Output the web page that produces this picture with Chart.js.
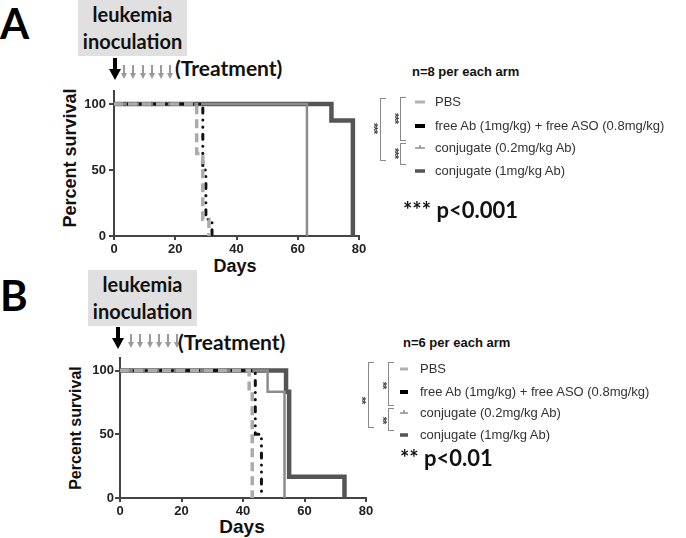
<!DOCTYPE html>
<html>
<head>
<meta charset="utf-8">
<script src="https://cdn.jsdelivr.net/npm/chart.js@4.4.0/dist/chart.umd.min.js"></script>
<style>
  body { margin: 0; background: #fff; width: 686px; height: 538px; overflow: hidden; position: relative; font-family: Arial, "Liberation Sans", sans-serif; }
  .abs { position: absolute; white-space: nowrap; }
  .panel { font-family: Lato, "Open Sans", sans-serif; font-weight: 700; font-size: 42px; color: #000; line-height: 42px; }
  .box { background: #e0e0e0; font-family: Lato, "Open Sans", sans-serif; font-weight: 700; font-size: 20px; color: #111; text-align: center; line-height: 27px; }
  .treat { font-family: Lato, "Open Sans", sans-serif; font-weight: 700; font-size: 21px; color: #111; line-height: 24px; }
  .ytitle { font-weight: bold; color: #111; transform: translate(-50%, -50%) rotate(-90deg); left: 0; top: 0; }
  .xtitle { font-weight: bold; color: #111; transform: translate(-50%, -50%); }
  .narm { font-weight: bold; font-size: 13px; color: #111; line-height: 16px; }
  .leg { font-size: 13px; color: #333; line-height: 16px; }
  .pval { font-family: Lato, "Open Sans", sans-serif; font-weight: 700; font-size: 22px; color: #111; line-height: 26px; }
  .br { border: 1px solid #8a8a8a; border-right: none; }
  .stars { font-size: 11px; font-weight: bold; color: #444; transform: translate(-50%, -50%) rotate(90deg); line-height: 10px; letter-spacing: -1px; }
  canvas { position: absolute; left: 0; }
</style>
</head>
<body>

<!-- Panel A -->
<div class="abs panel" style="left:0;top:2px;">A</div>
<div class="abs box" style="left:78px;top:0;width:109px;height:55px;padding-top:1px;">leukemia<br>inoculation</div>
<svg class="abs" style="left:100px;top:54px;" width="80" height="30">
  <polygon points="13,4 17,4 17,15 21,15 15,26 9,15 13,15" fill="#000"/>
  <g fill="#9a9a9a">
    <polygon points="23,11 25,11 25,19 27,19 24,25 21,19 23,19"/>
    <polygon points="32,11 34,11 34,19 36,19 33,25 30,19 32,19"/>
    <polygon points="42,11 44,11 44,19 46,19 43,25 40,19 42,19"/>
    <polygon points="51,11 53,11 53,19 55,19 52,25 49,19 51,19"/>
    <polygon points="60,11 62,11 62,19 64,19 61,25 58,19 60,19"/>
    <polygon points="69,11 71,11 71,19 73,19 70,25 67,19 69,19"/>
  </g>
</svg>
<div class="abs treat" style="left:175px;top:56px;">(Treatment)</div>
<div class="abs ytitle" style="left:70px;top:158px;font-size:18px;">Percent survival</div>
<div class="abs xtitle" style="left:235px;top:266px;font-size:18px;">Days</div>
<canvas id="chartA" width="380" height="190" style="top:80px;"></canvas>

<div class="abs narm" style="left:412px;top:64px;">n=8 per each arm</div>
<div class="abs br" style="left:380px;top:98px;width:5px;height:61px;"></div>
<div class="abs stars" style="left:374px;top:128px;">***</div>
<div class="abs br" style="left:400px;top:97px;width:5px;height:42px;"></div>
<div class="abs stars" style="left:395px;top:118px;">***</div>
<div class="abs br" style="left:400px;top:143px;width:5px;height:20px;"></div>
<div class="abs stars" style="left:395px;top:153px;">***</div>
<svg class="abs" style="left:413px;top:94px;" width="16" height="85">
  <line x1="2" y1="8" x2="12" y2="8" stroke="#b0b0b0" stroke-width="3"/>
  <line x1="2" y1="32" x2="12" y2="32" stroke="#000" stroke-width="4"/>
  <line x1="2" y1="54" x2="12" y2="54" stroke="#8c8c8c" stroke-width="1.5"/>
  <line x1="7" y1="51" x2="7" y2="54" stroke="#8c8c8c" stroke-width="1.5"/>
  <line x1="2" y1="77" x2="12" y2="77" stroke="#555" stroke-width="3.5"/>
</svg>
<div class="abs leg" style="left:435px;top:94px;">PBS</div>
<div class="abs leg" style="left:435px;top:118px;">free Ab (1mg/kg) + free ASO (0.8mg/kg)</div>
<div class="abs leg" style="left:435px;top:140px;">conjugate (0.2mg/kg Ab)</div>
<div class="abs leg" style="left:435px;top:163px;">conjugate (1mg/kg Ab)</div>
<div class="abs pval" style="left:403px;top:197px;">*** p&lt;0.001</div>

<!-- Panel B -->
<div class="abs panel" style="left:0;top:274px;">B</div>
<div class="abs box" style="left:88px;top:270px;width:109px;height:55px;padding-top:1px;">leukemia<br>inoculation</div>
<svg class="abs" style="left:103px;top:323px;" width="80" height="30">
  <polygon points="13,4 17,4 17,15 21,15 15,26 9,15 13,15" fill="#000"/>
  <g fill="#9a9a9a">
    <polygon points="27,11 29,11 29,19 31,19 28,25 25,19 27,19"/>
    <polygon points="36,11 38,11 38,19 40,19 37,25 34,19 36,19"/>
    <polygon points="46,11 48,11 48,19 50,19 47,25 44,19 46,19"/>
    <polygon points="55,11 57,11 57,19 59,19 56,25 53,19 55,19"/>
    <polygon points="64,11 66,11 66,19 68,19 65,25 62,19 64,19"/>
    <polygon points="73,11 75,11 75,19 77,19 74,25 71,19 73,19"/>
  </g>
</svg>
<div class="abs treat" style="left:178px;top:330px;">(Treatment)</div>
<div class="abs ytitle" style="left:76px;top:428px;font-size:16px;">Percent survival</div>
<div class="abs xtitle" style="left:242px;top:527px;font-size:19px;">Days</div>
<canvas id="chartB" width="387" height="190" style="top:349px;"></canvas>

<div class="abs narm" style="left:403px;top:335px;">n=6 per each arm</div>
<div class="abs br" style="left:368px;top:362px;width:5px;height:64px;"></div>
<div class="abs stars" style="left:362px;top:400px;">**</div>
<div class="abs br" style="left:388px;top:362px;width:5px;height:42px;"></div>
<div class="abs stars" style="left:383px;top:385px;">**</div>
<div class="abs br" style="left:388px;top:408px;width:5px;height:21px;"></div>
<div class="abs stars" style="left:383px;top:420px;">**</div>
<svg class="abs" style="left:398px;top:361px;" width="16" height="85">
  <line x1="2" y1="8" x2="10" y2="8" stroke="#b0b0b0" stroke-width="3"/>
  <line x1="2" y1="31" x2="10" y2="31" stroke="#000" stroke-width="4"/>
  <line x1="2" y1="52" x2="10" y2="52" stroke="#8c8c8c" stroke-width="1.5"/>
  <line x1="6" y1="49" x2="6" y2="52" stroke="#8c8c8c" stroke-width="1.5"/>
  <line x1="2" y1="74" x2="10" y2="74" stroke="#555" stroke-width="3.5"/>
</svg>
<div class="abs leg" style="left:420px;top:361px;">PBS</div>
<div class="abs leg" style="left:420px;top:384px;">free Ab (1mg/kg) + free ASO (0.8mg/kg)</div>
<div class="abs leg" style="left:420px;top:405px;">conjugate (0.2mg/kg Ab)</div>
<div class="abs leg" style="left:420px;top:427px;">conjugate (1mg/kg Ab)</div>
<div class="abs pval" style="left:400px;top:445px;">** p&lt;0.01</div>

<script>
// Panel A (n=8) - Kaplan-Meier steps: days at which survival changes
const daysA_pbs = [0, 27, 29, 31];
const survA_pbs = [100, 62.5, 12.5, 0];
const daysA_free = [0, 29, 30, 32];
const survA_free = [100, 50, 12.5, 0];
const daysA_conj02 = [0, 63];
const survA_conj02 = [100, 0];
const daysA_conj1 = [0, 71, 78];
const survA_conj1 = [100, 87.5, 0];

// Panel B (n=6)
const daysB_pbs = [0, 42, 43];
const survB_pbs = [100, 83.3, 0];
const daysB_free = [0, 44, 46];
const survB_free = [100, 50, 0];
const daysB_conj02 = [0, 48, 53.5];
const survB_conj02 = [100, 83.3, 0];
const daysB_conj1 = [0, 54, 55, 73];
const survB_conj1 = [100, 83.3, 16.7, 0];

const xTicks = [0, 20, 40, 60, 80];
const yTicks = [0, 50, 100];

// line styles per group: PBS, free Ab+ASO, conjugate 0.2, conjugate 1
const styles = [
  { borderColor: "#ababab", borderWidth: 3.5, borderDash: [9, 5] },
  { borderColor: "#111", borderWidth: 3, borderDash: [0.1, 7, 0.1, 7, 5, 7], borderCapStyle: "round" },
  { borderColor: "#8c8c8c", borderWidth: 2.5 },
  { borderColor: "#555", borderWidth: 4.5 },
];

function toPoints(days, surv) {
  return days.map((d, i) => ({ x: d, y: surv[i] }));
}

function kmChart(id, groups, yWidth, xHeight, tickPad) {
  const axisFont = { family: "Arial", weight: "bold", size: 13 };
  return new Chart(document.getElementById(id), {
    type: "line",
    data: {
      datasets: groups.map((g, i) => ({
        data: toPoints(g[0], g[1]),
        stepped: true,
        pointRadius: 0,
        fill: false,
        ...styles[i],
      })),
    },
    options: {
      responsive: false,
      animation: false,
      devicePixelRatio: 1,
      layout: { padding: { top: 8, right: 21, left: 0, bottom: 0 } },
      plugins: { legend: { display: false }, tooltip: { enabled: false } },
      scales: {
        x: {
          type: "linear",
          min: xTicks[0],
          max: xTicks[xTicks.length - 1],
          afterBuildTicks: (s) => { s.ticks = xTicks.map((v) => ({ value: v })); },
          ticks: { font: axisFont, color: "#222", padding: 2, maxRotation: 0 },
          grid: { drawOnChartArea: false, tickLength: 4, color: "#444", lineWidth: 2 },
          border: { color: "#444", width: 2 },
          afterFit: (s) => { s.height = xHeight; },
        },
        y: {
          min: 0,
          max: 110,
          afterBuildTicks: (s) => { s.ticks = yTicks.map((v) => ({ value: v })); },
          ticks: { font: axisFont, color: "#222", padding: tickPad },
          grid: { drawOnChartArea: false, tickLength: 5, color: "#444", lineWidth: 2 },
          border: { color: "#444", width: 2 },
          afterFit: (s) => { s.width = yWidth; },
        },
      },
    },
  });
}

kmChart("chartA", [
  [daysA_pbs, survA_pbs],
  [daysA_free, survA_free],
  [daysA_conj02, survA_conj02],
  [daysA_conj1, survA_conj1],
], 114, 34, 3);

kmChart("chartB", [
  [daysB_pbs, survB_pbs],
  [daysB_free, survB_free],
  [daysB_conj02, survB_conj02],
  [daysB_conj1, survB_conj1],
], 120, 41, 1);
</script>
</body>
</html>
